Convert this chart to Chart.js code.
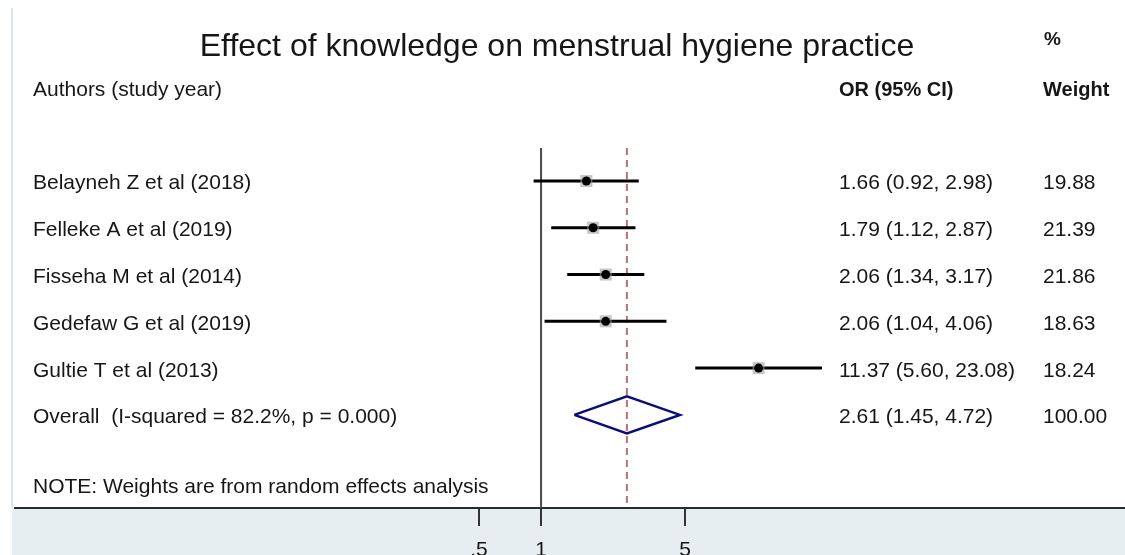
<!DOCTYPE html>
<html>
<head>
<meta charset="utf-8">
<script src="https://cdn.jsdelivr.net/npm/chart.js@4.4.1/dist/chart.umd.min.js"></script>
<style>
  html, body { margin: 0; padding: 0; background: #ffffff; }
  #wrap { width: 1125px; height: 555px; }
</style>
</head>
<body>
<div id="wrap"><canvas id="c" width="1125" height="555"></canvas></div>
<script>
// ---- data ----
const titleText = "Effect of knowledge on menstrual hygiene practice";
const studies = ["Belayneh Z et al (2018)", "Felleke A et al (2019)", "Fisseha M et al (2014)", "Gedefaw G et al (2019)", "Gultie T et al (2013)"];
const oddsRatios = [1.66, 1.79, 2.06, 2.06, 11.37];
const lowerCI = [0.92, 1.12, 1.34, 1.04, 5.60];
const upperCI = [2.98, 2.87, 3.17, 4.06, 23.08];
const weights = [19.88, 21.39, 21.86, 18.63, 18.24];
const overallLabel = "Overall  (I-squared = 82.2%, p = 0.000)";
const overallOR = [2.61];
const overallLo = [1.45];
const overallHi = [4.72];
const overallWeight = [100.00];
const noteText = "NOTE: Weights are from random effects analysis";
const tickValues = [0.5, 1, 5];
const tickLabels = [".5", "1", "5"];
const nullValue = [1];

const FONT = "'Liberation Sans', Arial, sans-serif";
const nRows = studies.length;
const yMin = -0.705, yMax = 6.99;
const xMin = 0.0028, xMax = 682;

const datasets = [];
// null line at OR = 1
datasets.push({
  type: 'scatter', showLine: true, data: [{x: nullValue[0], y: yMin}, {x: nullValue[0], y: yMax}],
  borderColor: '#4a4a4a', borderWidth: 2, pointRadius: 0, order: 10
});
// dashed overall line
datasets.push({
  type: 'scatter', showLine: true, data: [{x: overallOR[0], y: yMin}, {x: overallOR[0], y: yMax}],
  borderColor: '#b87474', borderWidth: 2, borderDash: [7, 5], pointRadius: 0, order: 9
});
// CI lines
for (let i = 0; i < nRows; i++) {
  datasets.push({
    type: 'scatter', showLine: true, data: [{x: lowerCI[i], y: i}, {x: upperCI[i], y: i}],
    borderColor: '#000000', borderWidth: 3, pointRadius: 0, order: 8
  });
}
// grey weight boxes
datasets.push({
  type: 'scatter', data: oddsRatios.map((v, i) => ({x: v, y: i})),
  pointStyle: 'rect', pointRadius: 8.5, backgroundColor: 'rgba(160,160,160,0.6)', borderWidth: 0, order: 7
});
// black point estimates
datasets.push({
  type: 'scatter', data: oddsRatios.map((v, i) => ({x: v, y: i})),
  pointStyle: 'circle', pointRadius: 4.5, backgroundColor: '#000000', borderWidth: 0, order: 6
});
// overall diamond
const dh = 0.395;
datasets.push({
  type: 'scatter', showLine: true,
  data: [{x: overallLo[0], y: nRows}, {x: overallOR[0], y: nRows - dh}, {x: overallHi[0], y: nRows}, {x: overallOR[0], y: nRows + dh}, {x: overallLo[0], y: nRows}],
  borderColor: '#0d0d78', borderWidth: 2.5, pointRadius: 0, fill: false, order: 5, tension: 0
});

const bgPlugin = {
  id: 'bg',
  beforeDraw(chart) {
    const ctx = chart.ctx;
    const a = chart.chartArea;
    ctx.save();
    ctx.fillStyle = '#ffffff';
    ctx.fillRect(0, 0, chart.width, chart.height);
    ctx.fillStyle = '#e6eef1';
    ctx.fillRect(12, a.bottom, chart.width - 12, chart.height - a.bottom);
    ctx.fillStyle = '#d9e6ec';
    ctx.fillRect(11, 8, 2, a.bottom - 8);
    ctx.restore();
  }
};

const textPlugin = {
  id: 'texts',
  afterDraw(chart) {
    const ctx = chart.ctx;
    const ys = chart.scales.y;
    ctx.save();
    ctx.fillStyle = '#161616';
    ctx.textBaseline = 'alphabetic';
    // title
    ctx.font = "32px " + FONT;
    ctx.textAlign = 'center';
    ctx.fillText(titleText, 557, 56);
    // headers
    ctx.textAlign = 'left';
    ctx.font = "bold 19px " + FONT;
    ctx.fillText("%", 1044, 45);
    ctx.font = "21px " + FONT;
    ctx.fillText("Authors (study year)", 33, 96);
    ctx.font = "bold 20px " + FONT;
    ctx.fillText("OR (95% CI)", 839, 96);
    ctx.fillText("Weight", 1043, 96);
    ctx.font = "21px " + FONT;
    // rows
    for (let i = 0; i < nRows; i++) {
      const y = ys.getPixelForValue(i) + 8.5;
      ctx.fillText(studies[i], 33, y);
      ctx.fillText(oddsRatios[i].toFixed(2) + " (" + lowerCI[i].toFixed(2) + ", " + upperCI[i].toFixed(2) + ")", 839, y);
      ctx.fillText(weights[i].toFixed(2), 1043, y);
    }
    const yo = ys.getPixelForValue(nRows) + 8;
    ctx.fillText(overallLabel, 33, yo);
    ctx.fillText(overallOR[0].toFixed(2) + " (" + overallLo[0].toFixed(2) + ", " + overallHi[0].toFixed(2) + ")", 839, yo);
    ctx.fillText(overallWeight[0].toFixed(2), 1043, yo);
    const yn = ys.getPixelForValue(nRows + 1.5) + 8;
    ctx.fillText(noteText, 33, yn);
    ctx.restore();
  }
};

new Chart(document.getElementById('c'), {
  type: 'scatter',
  data: { datasets },
  options: {
    responsive: false,
    animation: false,
    devicePixelRatio: 1,
    layout: { autoPadding: false, padding: { top: 148, left: 15, right: 0, bottom: 0 } },
    plugins: { legend: { display: false }, tooltip: { enabled: false }, title: { display: false } },
    scales: {
      x: {
        type: 'logarithmic',
        min: xMin, max: xMax,
        afterBuildTicks(scale) { scale.ticks = tickValues.map(v => ({ value: v })); },
        afterFit(scale) { scale.height = 47; scale.paddingLeft = 0; scale.paddingRight = 0; },
        grid: { display: true, drawOnChartArea: false, drawTicks: true, tickLength: 18, color: '#333333', lineWidth: 2 },
        border: { display: true, color: '#2a2a2a', width: 2 },
        ticks: {
          autoSkip: false, maxRotation: 0, padding: 12,
          color: '#161616', font: { family: FONT, size: 21 },
          callback: (value, index) => tickLabels[index]
        }
      },
      y: {
        type: 'linear', reverse: true, min: yMin, max: yMax, display: false
      }
    }
  },
  plugins: [bgPlugin, textPlugin]
});
</script>
</body>
</html>
